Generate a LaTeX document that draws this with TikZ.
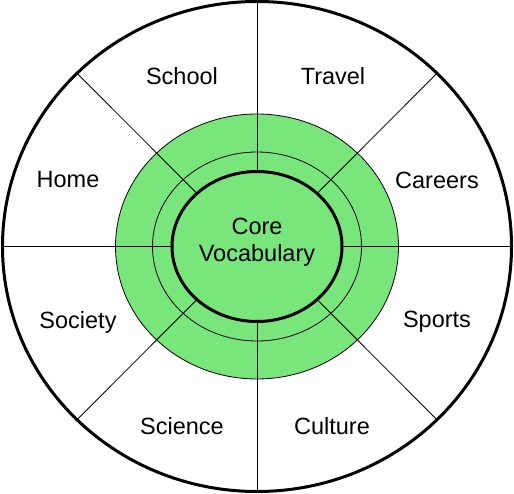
\documentclass[tikz,border=0pt]{standalone}
\usepackage{fontspec}
\setmainfont{Liberation Sans}
\usetikzlibrary{calc}
\definecolor{ringgreen}{RGB}{121,230,124}
\begin{document}
\begin{tikzpicture}[x=1pt,y=-1pt,
  lbl/.style={font=\fontsize{23.5}{27}\selectfont, align=center, inner sep=0pt},
  spoke/.style={draw=black, line width=0.8pt},
  thickring/.style={draw=black, line width=3pt},
  thinring/.style={draw=black, line width=0.8pt}]
\useasboundingbox (0,0) rectangle (514,494);
\coordinate (c) at (257,246.5);
% outer circle
\draw[thickring, fill=white] (c) ellipse [x radius=254.5, y radius=245];
% green ring
\draw[thinring, fill=ringgreen] (c) ellipse [x radius=141.5, y radius=132.5];
\draw[thinring] (c) ellipse [x radius=104.5, y radius=94.5];
% spokes
\foreach \a [count=\i] in {0,45,...,315}{
  \coordinate (o\i) at ($(c)+({254.5*cos(\a)},{245*sin(\a)})$);
  \coordinate (n\i) at ($(c)+({85.5*cos(\a)},{75.5*sin(\a)})$);
  \draw[spoke] (o\i) -- (n\i);
}
% core ring
\draw[thickring] (c) ellipse [x radius=85, y radius=75];
% labels
\node[lbl] (school)  at (182,76)  {School};
\node[lbl] (travel)  at (333,76)  {Travel};
\node[lbl] (home)    at (68,180)  {Home};
\node[lbl] (careers) at (437,180) {Careers};
\node[lbl] (society) at (78,322)  {Society};
\node[lbl] (sports)  at (437,322) {Sports};
\node[lbl] (science) at (182,426) {Science};
\node[lbl] (culture) at (332,426) {Culture};
\node[lbl] (core)    at (257,242.5) {Core\\Vocabulary};
\end{tikzpicture}
\end{document}
